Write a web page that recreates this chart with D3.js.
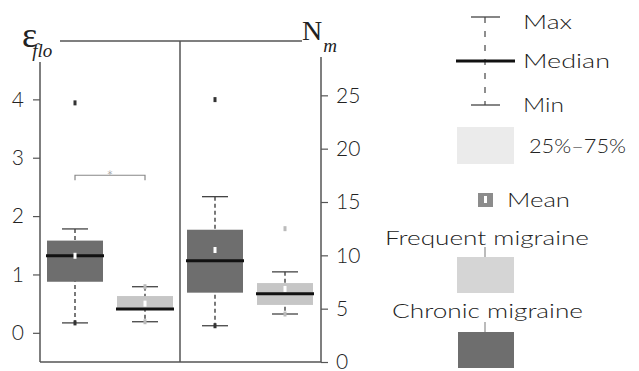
<!DOCTYPE html>
<html>
<head>
<meta charset="utf-8">
<script src="https://cdn.jsdelivr.net/npm/d3@7"></script>
<style>
  body { margin: 0; background: #fff; }
  text { font-family: "Lato", "DejaVu Sans", sans-serif; font-weight: 300; fill: #222; }
</style>
</head>
<body>
<div id="chart"></div>
<script>
// groups in each panel
const groups = ["Chronic migraine", "Frequent migraine"];
const groupColors = ["#6e6e6e", "#c6c6c6"];

// panel 1: eps_flo (left axis)
const efloMin = [0.17, 0.19];
const efloQ1 = [0.875, 0.41];
const efloMedian = [1.32, 0.41];
const efloQ3 = [1.58, 0.63];
const efloMax = [1.78, 0.79];
const efloMean = [1.32, 0.50];
const efloPoints = [[3.94, 0.17], [0.79, 0.19]];

// panel 2: N_m (right axis)
const nmMin = [3.4, 4.5];
const nmQ1 = [6.5, 5.35];
const nmMedian = [9.5, 6.4];
const nmQ3 = [12.4, 7.4];
const nmMax = [15.5, 8.45];
const nmMean = [10.5, 6.85];
const nmPoints = [[24.6, 3.4], [12.5, 4.5]];

const efloTicks = [0, 1, 2, 3, 4];
const nmTicks = [0, 5, 10, 15, 20, 25];
const bracket = {from: 0, to: 1, value: 2.7, label: "*"};

const W = 639, H = 371;
const svg = d3.select("#chart").append("svg").attr("width", W).attr("height", H);

const yL = d3.scaleLinear().domain([-0.5, 5]).range([362, 41]);
const yR = d3.scaleLinear().domain([0, 30]).range([362, 42]);
const xL = d3.scaleBand().domain(groups).range([40, 180]).paddingInner(0.2).paddingOuter(0.1);
const xR = d3.scaleBand().domain(groups).range([180, 320]).paddingInner(0.2).paddingOuter(0.1);

const axisColor = "#555";

// frame lines
svg.append("line").attr("x1", 60).attr("x2", 302).attr("y1", 41).attr("y2", 41).attr("stroke", axisColor).attr("stroke-width", 1.5);
svg.append("line").attr("x1", 40).attr("x2", 321).attr("y1", 362).attr("y2", 362).attr("stroke", axisColor).attr("stroke-width", 1.5);
svg.append("line").attr("x1", 180).attr("x2", 180).attr("y1", 41).attr("y2", 362).attr("stroke", axisColor).attr("stroke-width", 1.5);
svg.append("line").attr("x1", 40).attr("x2", 40).attr("y1", 62).attr("y2", 362).attr("stroke", axisColor).attr("stroke-width", 1.5);
svg.append("line").attr("x1", 321).attr("x2", 321).attr("y1", 57).attr("y2", 362).attr("stroke", axisColor).attr("stroke-width", 1.5);

// axes
const gL = svg.append("g").attr("transform", "translate(40,0)")
  .call(d3.axisLeft(yL).tickValues(efloTicks).tickSize(7).tickPadding(9).tickFormat(d3.format("d")));
const gR = svg.append("g").attr("transform", "translate(321,0)")
  .call(d3.axisRight(yR).tickValues(nmTicks).tickSize(7).tickPadding(8).tickFormat(d3.format("d")));
[gL, gR].forEach(g => {
  g.select(".domain").remove();
  g.selectAll(".tick line").attr("stroke", axisColor).attr("stroke-width", 1.2);
  g.selectAll(".tick text").style("font-size", "21px").style("font-family", "Lato, sans-serif").style("fill", "#222");
});

// axis titles
const tl = svg.append("text").attr("x", 22).attr("y", 47)
  .style("font-family", "'Liberation Serif', serif").style("font-size", "36px").style("font-weight", 400);
tl.append("tspan").text("ε");
tl.append("tspan").attr("dx", -5).attr("dy", 10).style("font-size", "19px").style("font-style", "italic").text("flo");
const tr = svg.append("text").attr("x", 302).attr("y", 40)
  .style("font-family", "'Liberation Serif', serif").style("font-size", "28px").style("font-weight", 400);
tr.append("tspan").text("N");
tr.append("tspan").attr("dx", 1).attr("dy", 12).style("font-size", "19px").style("font-style", "italic").text("m");

function drawPanel(x, y, mins, q1s, meds, q3s, maxs, means, points) {
  groups.forEach((gname, i) => {
    const cx = x(gname) + x.bandwidth() / 2;
    const bw = x.bandwidth();
    const g = svg.append("g");
    // whisker
    g.append("line").attr("x1", cx).attr("x2", cx).attr("y1", y(maxs[i])).attr("y2", y(mins[i]))
      .attr("stroke", "#333").attr("stroke-width", 1.3).attr("stroke-dasharray", "4,3");
    [maxs[i], mins[i]].forEach(v => {
      g.append("line").attr("x1", cx - 13).attr("x2", cx + 13).attr("y1", y(v)).attr("y2", y(v))
        .attr("stroke", "#444").attr("stroke-width", 1.3);
    });
    // box
    g.append("rect").attr("x", x(gname)).attr("width", bw)
      .attr("y", y(q3s[i])).attr("height", Math.max(1, y(q1s[i]) - y(q3s[i])))
      .attr("fill", groupColors[i]);
    // median
    g.append("line").attr("x1", x(gname) - 1).attr("x2", x(gname) + bw + 1)
      .attr("y1", y(meds[i])).attr("y2", y(meds[i])).attr("stroke", "#111").attr("stroke-width", 3);
    // mean
    g.append("rect").attr("x", cx - 1.5).attr("y", y(means[i]) - 3).attr("width", 3).attr("height", 6).attr("fill", "#fff");
    // points
    points[i].forEach(v => {
      g.append("rect").attr("x", cx - 1.5).attr("y", y(v) - 2.5).attr("width", 3).attr("height", 5)
        .attr("fill", i === 0 ? "#333" : "#bbb");
    });
  });
}
drawPanel(xL, yL, efloMin, efloQ1, efloMedian, efloQ3, efloMax, efloMean, efloPoints);
drawPanel(xR, yR, nmMin, nmQ1, nmMedian, nmQ3, nmMax, nmMean, nmPoints);

// significance bracket
const bx1 = xL(groups[bracket.from]) + xL.bandwidth() / 2;
const bx2 = xL(groups[bracket.to]) + xL.bandwidth() / 2;
const by = yL(bracket.value);
svg.append("path").attr("d", `M${bx1},${by + 5}V${by}H${bx2}V${by + 5}`)
  .attr("fill", "none").attr("stroke", "#888").attr("stroke-width", 1.2);
svg.append("text").attr("x", (bx1 + bx2) / 2).attr("y", by + 7).attr("text-anchor", "middle")
  .style("font-size", "16px").style("fill", "#888").text(bracket.label);

// legend
const lg = svg.append("g");
const lx = 485;
lg.append("line").attr("x1", lx).attr("x2", lx).attr("y1", 17).attr("y2", 105).attr("stroke", "#444").attr("stroke-width", 1.2).attr("stroke-dasharray", "6,8");
lg.append("line").attr("x1", 471).attr("x2", 500).attr("y1", 17).attr("y2", 17).attr("stroke", "#444").attr("stroke-width", 1.3);
lg.append("line").attr("x1", 471).attr("x2", 500).attr("y1", 105).attr("y2", 105).attr("stroke", "#444").attr("stroke-width", 1.3);
lg.append("line").attr("x1", 456).attr("x2", 515).attr("y1", 61).attr("y2", 61).attr("stroke", "#111").attr("stroke-width", 3);
lg.append("rect").attr("x", 457).attr("y", 127).attr("width", 57).attr("height", 37).attr("fill", "#ebebeb");
lg.append("rect").attr("x", 478).attr("y", 193).attr("width", 15).attr("height", 14).attr("fill", "#8c8c8c");
lg.append("rect").attr("x", 484).attr("y", 196).attr("width", 3).attr("height", 7).attr("fill", "#fff");
lg.append("line").attr("x1", lx).attr("x2", lx).attr("y1", 247).attr("y2", 257).attr("stroke", "#bbb").attr("stroke-width", 2);
lg.append("rect").attr("x", 457).attr("y", 257).attr("width", 57).attr("height", 36).attr("fill", "#d5d5d5");
lg.append("line").attr("x1", lx).attr("x2", lx).attr("y1", 322).attr("y2", 332).attr("stroke", "#bbb").attr("stroke-width", 2);
lg.append("rect").attr("x", 458).attr("y", 332).attr("width", 56).attr("height", 36).attr("fill", "#6e6e6e");

const legendTexts = [
  {t: "Max", x: 523, y: 29, w: 49},
  {t: "Median", x: 523, y: 68, w: 87},
  {t: "Min", x: 523, y: 112, w: 41},
  {t: "25%–75%", x: 529, y: 153, w: 97},
  {t: "Mean", x: 507, y: 207, w: 63},
  {t: "Frequent migraine", x: 385, y: 245, w: 204},
  {t: "Chronic migraine", x: 392, y: 318, w: 191}
];
legendTexts.forEach(d => {
  lg.append("text").attr("x", d.x).attr("y", d.y).style("font-size", "20px")
    .attr("textLength", d.w).attr("lengthAdjust", "spacingAndGlyphs").text(d.t);
});
</script>
</body>
</html>
